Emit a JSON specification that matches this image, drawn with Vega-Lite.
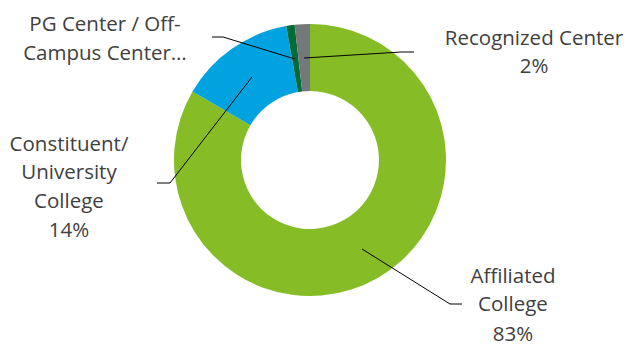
{
  "$schema": "https://vega.github.io/schema/vega-lite/v6.json",
  "width": 629,
  "height": 344,
  "padding": 0,
  "autosize": {"type": "none"},
  "background": "#ffffff",
  "config": {"view": {"stroke": null}},
  "datasets": {
    "slices": [
      {"category": "Affiliated College", "share": 83.4, "order": 1},
      {"category": "Constituent/University College", "share": 13.8, "order": 2},
      {"category": "PG Center / Off-Campus Center", "share": 1.0, "order": 3},
      {"category": "Recognized Center", "share": 1.8, "order": 4}
    ],
    "leaders": [
      {"category": "PG Center / Off-Campus Center", "pt": 1, "ux": -0.7206, "uy": 0.9044},
      {"category": "PG Center / Off-Campus Center", "pt": 2, "ux": -0.6397, "uy": 0.9044},
      {"category": "PG Center / Off-Campus Center", "pt": 3, "ux": -0.1103, "uy": 0.7426},
      {"category": "Recognized Center", "pt": 1, "ux": 0.7647, "uy": 0.7941},
      {"category": "Recognized Center", "pt": 2, "ux": 0.6691, "uy": 0.7941},
      {"category": "Recognized Center", "pt": 3, "ux": -0.0441, "uy": 0.75},
      {"category": "Constituent/University College", "pt": 1, "ux": -1.125, "uy": -0.1691},
      {"category": "Constituent/University College", "pt": 2, "ux": -1.0294, "uy": -0.1691},
      {"category": "Constituent/University College", "pt": 3, "ux": -0.4265, "uy": 0.6103},
      {"category": "Affiliated College", "pt": 1, "ux": 1.1176, "uy": -1.0588},
      {"category": "Affiliated College", "pt": 2, "ux": 1.0294, "uy": -1.0588},
      {"category": "Affiliated College", "pt": 3, "ux": 0.3824, "uy": -0.6544}
    ],
    "labels": [
      {"text": "PG Center / Off-", "ux": -1.5074, "uy": 0.9926},
      {"text": "Campus Center…", "ux": -1.5074, "uy": 0.7794},
      {"text": "Recognized Center", "ux": 1.6471, "uy": 0.8897},
      {"text": "2%", "ux": 1.6471, "uy": 0.6838},
      {"text": "Constituent/", "ux": -1.7721, "uy": 0.114},
      {"text": "University", "ux": -1.7721, "uy": -0.0956},
      {"text": "College", "ux": -1.7721, "uy": -0.3088},
      {"text": "14%", "ux": -1.7721, "uy": -0.5221},
      {"text": "Affiliated", "ux": 1.4926, "uy": -0.8603},
      {"text": "College", "ux": 1.4926, "uy": -1.0662},
      {"text": "83%", "ux": 1.4926, "uy": -1.2831}
    ]
  },
  "layer": [
    {
      "data": {"name": "slices"},
      "mark": {"type": "arc", "outerRadius": 136, "innerRadius": 69, "stroke": null},
      "encoding": {
        "x": {"datum": 0, "type": "quantitative", "scale": {"domain": [-2.2794, 2.3456], "nice": false, "zero": false}, "axis": null},
        "y": {"datum": 0, "type": "quantitative", "scale": {"domain": [-1.3529, 1.1765], "nice": false, "zero": false}, "axis": null},
        "theta": {"field": "share", "type": "quantitative", "stack": true},
        "order": {"field": "order", "type": "quantitative", "sort": "ascending"},
        "color": {
          "field": "category",
          "type": "nominal",
          "scale": {
            "domain": ["Affiliated College", "Constituent/University College", "PG Center / Off-Campus Center", "Recognized Center"],
            "range": ["#86BC25", "#00A3E0", "#046A38", "#75787B"]
          },
          "legend": null
        }
      }
    },
    {
      "data": {"name": "leaders"},
      "mark": {"type": "line", "color": "#000000", "strokeWidth": 1},
      "encoding": {
        "x": {"field": "ux", "type": "quantitative", "axis": null},
        "y": {"field": "uy", "type": "quantitative", "axis": null},
        "detail": {"field": "category"},
        "order": {"field": "pt", "type": "quantitative"}
      }
    },
    {
      "data": {"name": "labels"},
      "mark": {"type": "text", "font": "Open Sans", "fontSize": 20.5, "color": "#404040", "align": "center", "baseline": "middle"},
      "encoding": {
        "x": {"field": "ux", "type": "quantitative", "axis": null},
        "y": {"field": "uy", "type": "quantitative", "axis": null},
        "text": {"field": "text"}
      }
    }
  ],
  "resolve": {"scale": {"color": "independent"}}
}
